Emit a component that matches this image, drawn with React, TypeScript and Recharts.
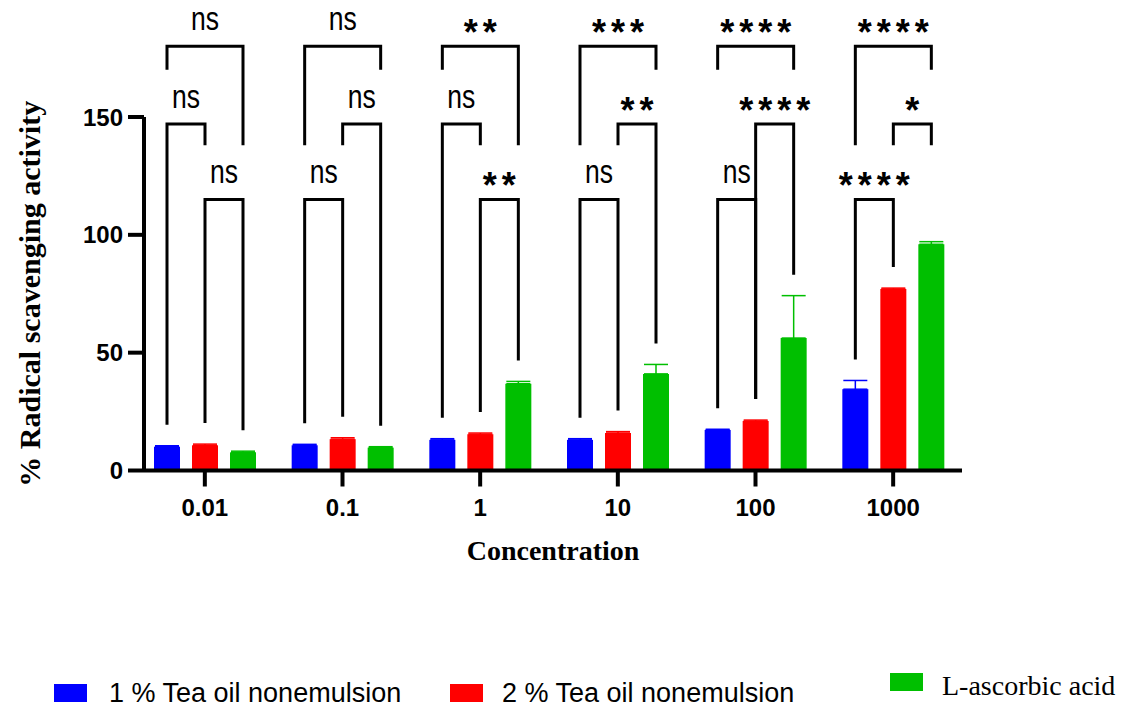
import React from 'react';
import { BarChart, Bar, XAxis, YAxis, ErrorBar } from 'recharts';

const categories = ['0.01', '0.1', '1', '10', '100', '1000'];
const tea1Values = [10.1, 10.7, 13, 13, 17.2, 34.5];
const tea1Errors = [0.4, 0.4, 0.5, 0.5, 0.3, 3.7];
const tea2Values = [10.7, 13.3, 15.4, 15.9, 21, 77];
const tea2Errors = [0.5, 0.6, 0.5, 0.6, 0.4, 0.4];
const ascorbicValues = [7.7, 9.7, 36.8, 41, 56.2, 96];
const ascorbicErrors = [0.5, 0.4, 1.0, 4.0, 18, 1.1];
const yTicks = [0, 50, 100, 150];
const seriesNames = ['1 % Tea oil nonemulsion', '2 % Tea oil nonemulsion', 'L-ascorbic acid'];
const seriesColors = ['#0000FF', '#FF0000', '#00BF00'];

// significance brackets: group index, series a, series b, level, label, leg ends
const significance = [
  { group: 0, a: 0, b: 2, level: 'top', text: 'ns', legA: 'S', legB: 'M' },
  { group: 0, a: 0, b: 1, level: 'mid', text: 'ns', legA: 'B', legB: 'M' },
  { group: 0, a: 1, b: 2, level: 'low', text: 'ns', legA: 'B', legB: 'B' },
  { group: 1, a: 0, b: 2, level: 'top', text: 'ns', legA: 'M', legB: 'S' },
  { group: 1, a: 1, b: 2, level: 'mid', text: 'ns', legA: 'M', legB: 'B' },
  { group: 1, a: 0, b: 1, level: 'low', text: 'ns', legA: 'B', legB: 'B' },
  { group: 2, a: 0, b: 2, level: 'top', text: '**', legA: 'S', legB: 'M' },
  { group: 2, a: 0, b: 1, level: 'mid', text: 'ns', legA: 'B', legB: 'M' },
  { group: 2, a: 1, b: 2, level: 'low', text: '**', legA: 'B', legB: 'B' },
  { group: 3, a: 0, b: 2, level: 'top', text: '***', legA: 'M', legB: 'S' },
  { group: 3, a: 1, b: 2, level: 'mid', text: '**', legA: 'M', legB: 'B' },
  { group: 3, a: 0, b: 1, level: 'low', text: 'ns', legA: 'B', legB: 'B' },
  { group: 4, a: 0, b: 2, level: 'top', text: '****', legA: 'S', legB: 'S' },
  { group: 4, a: 1, b: 2, level: 'mid', text: '****', legA: 'B', legB: 'B' },
  { group: 4, a: 0, b: 1, level: 'low', text: 'ns', legA: 'B', legB: 'B' },
  { group: 5, a: 0, b: 2, level: 'top', text: '****', legA: 'M', legB: 'S' },
  { group: 5, a: 1, b: 2, level: 'mid', text: '*', legA: 'M', legB: 'M' },
  { group: 5, a: 0, b: 1, level: 'low', text: '****', legA: 'B', legB: 'B' },
];
const levelValues: Record<string, number> = { top: 180, mid: 147, low: 115 };
const legStopValues: Record<string, number> = { S: 170, M: 138 };

const BAR_SIZE = 26;
const BAR_GAP = 12;
const LEG_GAP_PX = 21;
const SANS = '"Liberation Sans", Arial, Helvetica, sans-serif';
const SERIF = '"Liberation Serif", "Times New Roman", Times, serif';

const data = categories.map((c, i) => ({
  concentration: c,
  tea1: tea1Values[i],
  tea1Err: [0, tea1Errors[i]],
  tea2: tea2Values[i],
  tea2Err: [0, tea2Errors[i]],
  asc: ascorbicValues[i],
  ascErr: [0, ascorbicErrors[i]],
}));

function BlueWithBrackets(props: any) {
  const { x, y, width, height, fill, index } = props;
  const v = tea1Values[index];
  const base = y + height;
  const ppu = v ? height / v : 0;
  const toPx = (val: number) => base - val * ppu;
  const step = width + BAR_GAP;
  const c0 = x + width / 2;
  const centers = [c0, c0 + step, c0 + 2 * step];
  const tops = [
    tea1Values[index] + tea1Errors[index],
    tea2Values[index] + tea2Errors[index],
    ascorbicValues[index] + ascorbicErrors[index],
  ];
  const legEnd = (leg: string, s: number) =>
    leg === 'B' ? toPx(tops[s]) - LEG_GAP_PX : toPx(legStopValues[leg]);
  const items = significance.filter((b) => b.group === index);
  return (
    <g>
      <rect x={x} y={y} width={width} height={height} fill={fill} />
      {items.map((b, k) => {
        const ly = toPx(levelValues[b.level]);
        const xa = centers[b.a];
        const xb = centers[b.b];
        const ya = legEnd(b.legA, b.a);
        const yb = legEnd(b.legB, b.b);
        const mid = (xa + xb) / 2;
        const stars = b.text.startsWith('*');
        return (
          <g key={k}>
            <path
              d={`M${xa},${ya}V${ly}H${xb}V${yb}`}
              fill="none"
              stroke="#000"
              strokeWidth={3}
              strokeLinejoin="miter"
            />
            {stars ? (
              <text
                x={mid + 2.5}
                y={ly - 1}
                textAnchor="middle"
                fontFamily={SANS}
                fontWeight="bold"
                fontSize={36}
                letterSpacing={5}
                fill="#000"
              >
                {b.text}
              </text>
            ) : (
              <text
                x={mid}
                y={ly - 16}
                textAnchor="middle"
                fontFamily={SANS}
                fontSize={33}
                textLength={28}
                lengthAdjust="spacingAndGlyphs"
                fill="#000"
              >
                {b.text}
              </text>
            )}
          </g>
        );
      })}
    </g>
  );
}

const legendItems = [
  { name: seriesNames[0], color: seriesColors[0], rx: 54, ry: 684, tx: 109, ty: 702, font: SANS, size: 27 },
  { name: seriesNames[1], color: seriesColors[1], rx: 450, ry: 684, tx: 502, ty: 702, font: SANS, size: 27 },
  { name: seriesNames[2], color: seriesColors[2], rx: 890, ry: 673, tx: 942, ty: 695, font: SERIF, size: 28 },
];

export default function App() {
  return (
    <div style={{ position: 'absolute', left: 0, top: 0, width: 1141, height: 709, background: '#fff' }}>
      <BarChart
        width={1141}
        height={709}
        data={data}
        margin={{ top: 117, right: 179, bottom: 138.5, left: 14 }}
        barSize={BAR_SIZE}
        barGap={BAR_GAP}
      >
        <XAxis
          dataKey="concentration"
          height={100}
          padding={{ left: -8, right: 0 }}
          axisLine={{ stroke: '#000', strokeWidth: 4 }}
          tickLine={{ stroke: '#000', strokeWidth: 4 }}
          tickSize={16}
          tickMargin={12}
          tick={{ fill: '#000', fontSize: 24, fontWeight: 'bold', fontFamily: SANS }}
          label={{
            value: 'Concentration',
            position: 'insideBottom',
            offset: 10.5,
            fill: '#000',
            fontSize: 28,
            fontWeight: 'bold',
            fontFamily: SERIF,
          }}
        />
        <YAxis
          width={130}
          domain={[0, 150]}
          ticks={yTicks}
          axisLine={{ stroke: '#000', strokeWidth: 4 }}
          tickLine={{ stroke: '#000', strokeWidth: 4 }}
          tickSize={16}
          tickMargin={5}
          tick={{ fill: '#000', fontSize: 24, fontWeight: 'bold', fontFamily: SANS }}
          label={{
            value: '% Radical scavenging activity',
            angle: -90,
            position: 'insideLeft',
            offset: 15,
            fill: '#000',
            fontSize: 30,
            fontWeight: 'bold',
            fontFamily: SERIF,
            style: { textAnchor: 'middle' },
          }}
        />
        <Bar dataKey="tea1" name={seriesNames[0]} fill={seriesColors[0]} isAnimationActive={false} shape={BlueWithBrackets}>
          <ErrorBar dataKey="tea1Err" width={12} stroke={seriesColors[0]} strokeWidth={1.5} />
        </Bar>
        <Bar dataKey="tea2" name={seriesNames[1]} fill={seriesColors[1]} isAnimationActive={false}>
          <ErrorBar dataKey="tea2Err" width={12} stroke={seriesColors[1]} strokeWidth={1.5} />
        </Bar>
        <Bar dataKey="asc" name={seriesNames[2]} fill={seriesColors[2]} isAnimationActive={false}>
          <ErrorBar dataKey="ascErr" width={12} stroke={seriesColors[2]} strokeWidth={1.5} />
        </Bar>
      </BarChart>
      <svg width={1141} height={709} style={{ position: 'absolute', left: 0, top: 0, pointerEvents: 'none' }}>
        {legendItems.map((it) => (
          <g key={it.name}>
            <rect x={it.rx} y={it.ry} width={33} height={18} fill={it.color} />
            <text x={it.tx} y={it.ty} fontFamily={it.font} fontSize={it.size} fill="#000">
              {it.name}
            </text>
          </g>
        ))}
      </svg>
    </div>
  );
}
